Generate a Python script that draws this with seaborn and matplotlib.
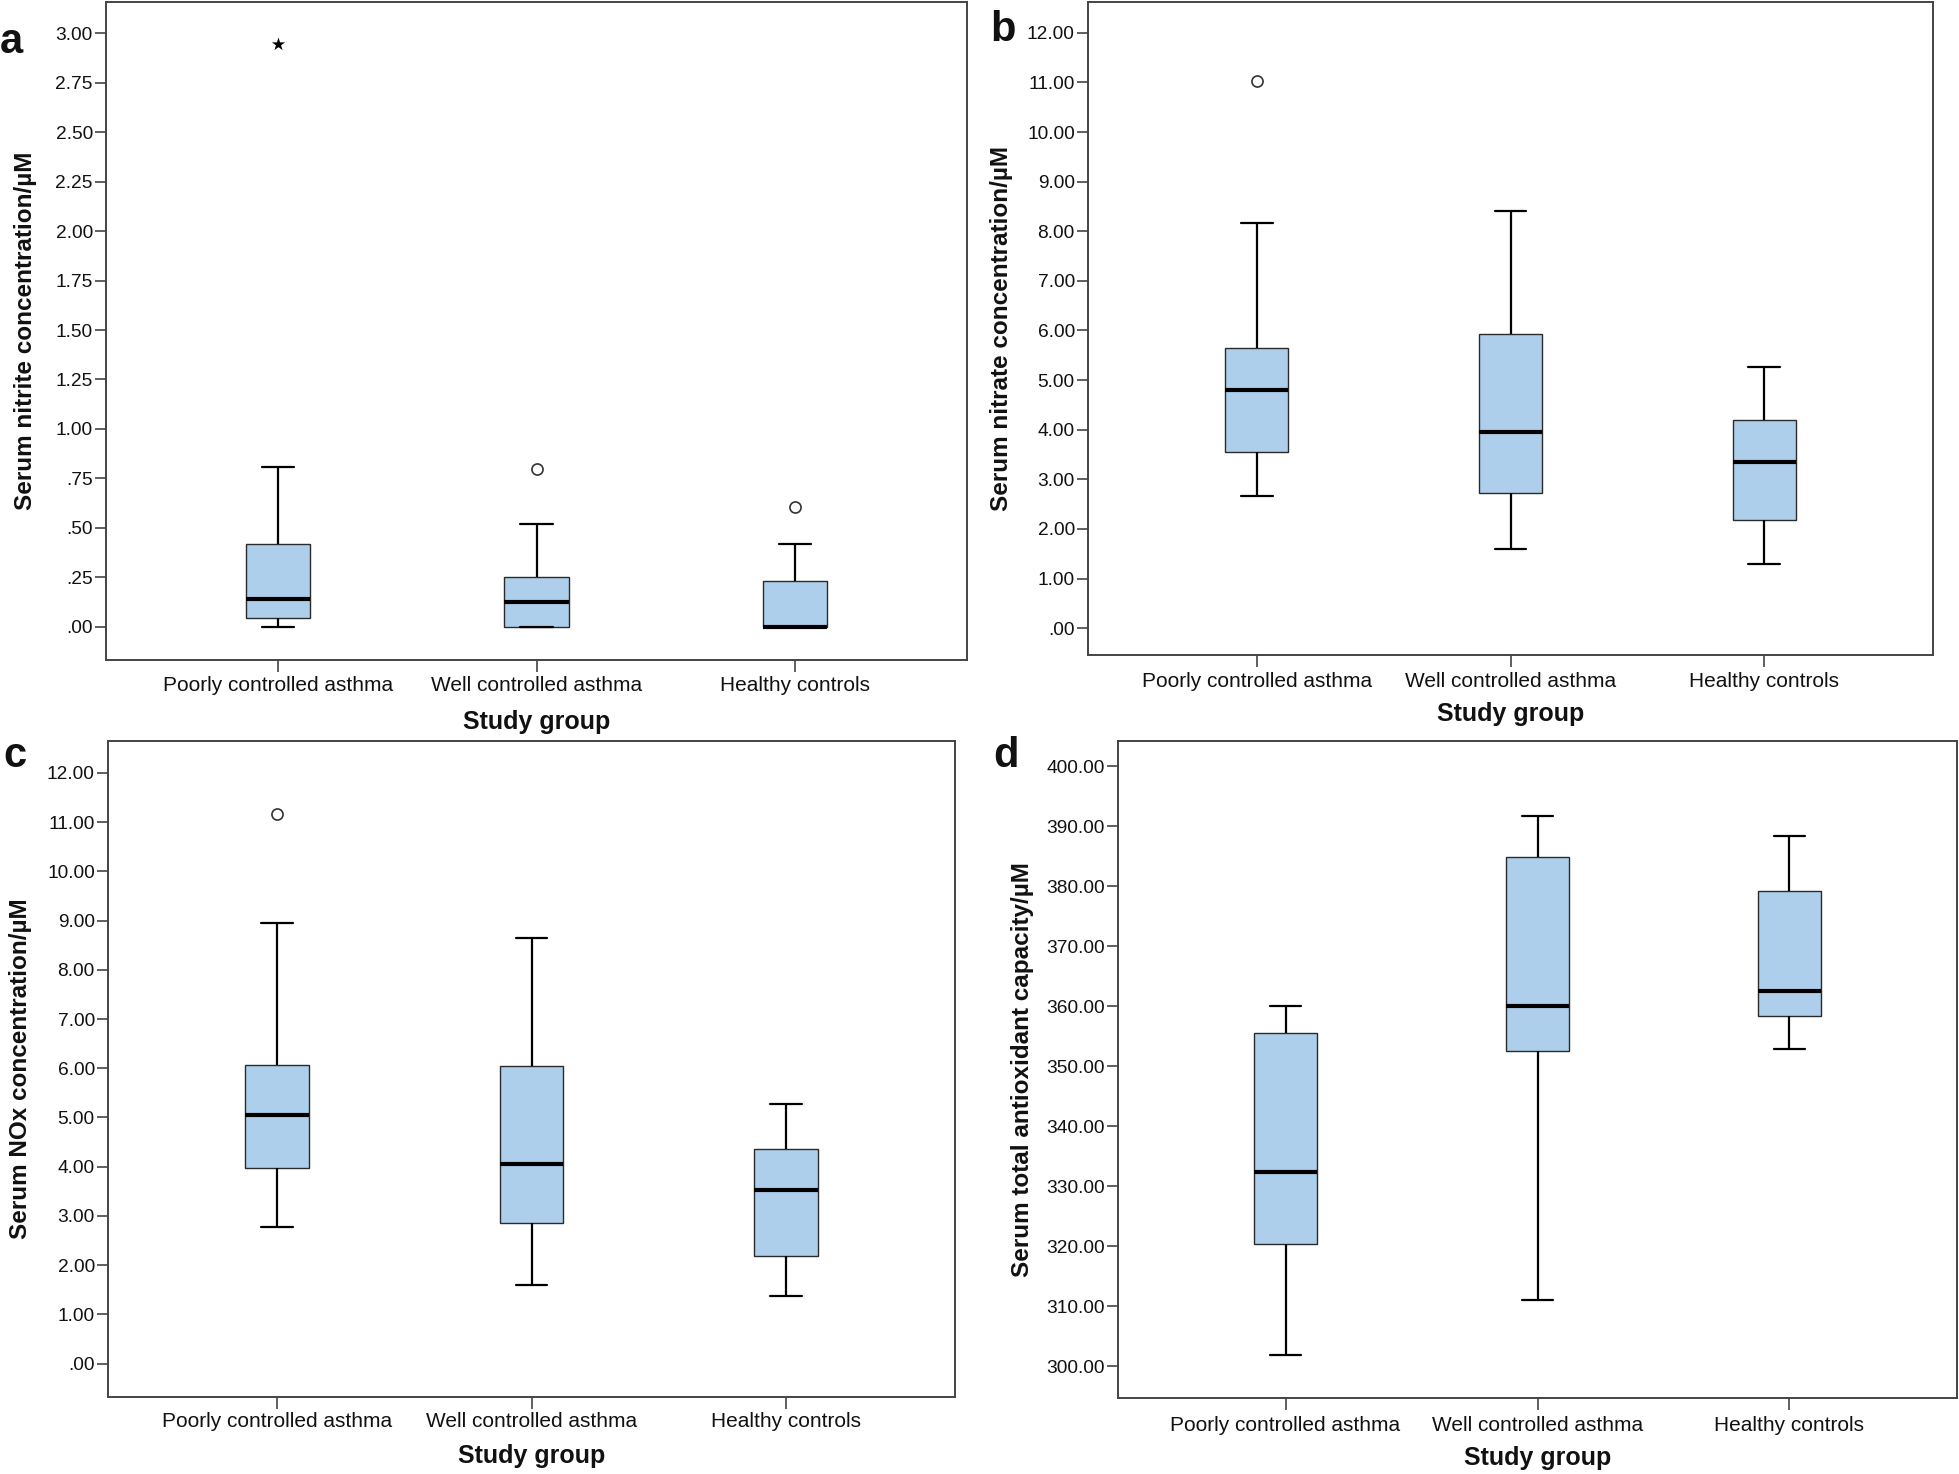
import numpy as np
import pandas as pd
import matplotlib
matplotlib.use("Agg")
import matplotlib.pyplot as plt
import seaborn as sns
from matplotlib.ticker import FuncFormatter

# ---------------- data ----------------
groups = ["Poorly controlled asthma", "Well controlled asthma", "Healthy controls"]

# five-number summaries per group: [lower whisker, Q1, median, Q3, upper whisker]
nitrite_poor = [0.00, 0.045, 0.141, 0.418, 0.806]
nitrite_well = [0.00, 0.00, 0.127, 0.251, 0.519]
nitrite_healthy = [0.00, 0.00, 0.00, 0.234, 0.418]
nitrite_out_groups = ["Well controlled asthma", "Healthy controls"]
nitrite_out_values = [0.796, 0.607]
nitrite_ext_groups = ["Poorly controlled asthma"]
nitrite_ext_values = [2.945]

nitrate_poor = [2.66, 3.56, 4.80, 5.64, 8.17]
nitrate_well = [1.59, 2.72, 3.95, 5.92, 8.40]
nitrate_healthy = [1.29, 2.18, 3.35, 4.19, 5.27]
nitrate_out_groups = ["Poorly controlled asthma"]
nitrate_out_values = [11.03]

nox_poor = [2.78, 3.97, 5.06, 6.07, 8.96]
nox_well = [1.60, 2.86, 4.05, 6.04, 8.65]
nox_healthy = [1.37, 2.18, 3.53, 4.36, 5.28]
nox_out_groups = ["Poorly controlled asthma"]
nox_out_values = [11.17]

tac_poor = [301.8, 320.3, 332.3, 355.6, 360.0]
tac_well = [311.0, 352.6, 360.0, 384.8, 391.7]
tac_healthy = [352.8, 358.3, 362.5, 379.2, 388.3]

nitrite_ticks = [0, 0.25, 0.5, 0.75, 1.0, 1.25, 1.5, 1.75, 2.0, 2.25, 2.5, 2.75, 3.0]
nitrate_ticks = [0, 1, 2, 3, 4, 5, 6, 7, 8, 9, 10, 11, 12]
nox_ticks = [0, 1, 2, 3, 4, 5, 6, 7, 8, 9, 10, 11, 12]
tac_ticks = [300, 310, 320, 330, 340, 350, 360, 370, 380, 390, 400]

ylabels = ["Serum nitrite concentration/\u00b5M",
           "Serum nitrate concentration/\u00b5M",
           "Serum NOx concentration/\u00b5M",
           "Serum total antioxidant capacity/\u00b5M"]
xlabel = "Study group"
panel_letters = ["a", "b", "c", "d"]

# ---------------- style ----------------
sns.set_theme(style="ticks")
plt.rcParams["font.family"] = ["Liberation Sans", "DejaVu Sans"]
plt.rcParams["text.color"] = "#111111"
plt.rcParams["axes.labelcolor"] = "#111111"
plt.rcParams["xtick.labelcolor"] = "#111111"
plt.rcParams["ytick.labelcolor"] = "#111111"

BOX = "#aecfec"
EDGE = "#2a2a2a"
SPINE = "#444444"

W, H = 1959, 1474
fig = plt.figure(figsize=(W / 100, H / 100), dpi=100)


def px_axes(left, top, right, bottom):
    return fig.add_axes([left / W, 1 - bottom / H, (right - left) / W, (bottom - top) / H])


def fmt(v, pos):
    s = f"{v:.2f}"
    if abs(v) < 1:
        s = s.replace("0.", ".", 1)
    return s


def draw(ax, summaries, ylim, ticks, ylabel, out_g=None, out_v=None, ext_g=None, ext_v=None,
         ylab_x=-0.1, xlab_y=-0.1, catpad=4):
    df = pd.DataFrame({"group": np.repeat(groups, 5), "value": np.concatenate(summaries)})
    sns.boxplot(data=df, x="group", y="value", order=groups, ax=ax, whis=(0, 100),
                width=0.25, color=BOX, saturation=1, linecolor=EDGE, linewidth=1.0,
                showfliers=False,
                boxprops=dict(facecolor=BOX, edgecolor=EDGE, linewidth=1.0, zorder=2),
                medianprops=dict(color="black", linewidth=3.0, solid_capstyle="butt"),
                whiskerprops=dict(color="black", linewidth=1.6),
                capprops=dict(color="black", linewidth=1.6))
    if out_v:
        odf = pd.DataFrame({"group": out_g, "value": out_v})
        sns.stripplot(data=odf, x="group", y="value", order=groups, ax=ax, jitter=False,
                      marker="o", size=8, color="white", edgecolor="#333333", linewidth=1.2,
                      zorder=5)
    if ext_v:
        edf = pd.DataFrame({"group": ext_g, "value": ext_v})
        sns.stripplot(data=edf, x="group", y="value", order=groups, ax=ax, jitter=False,
                      marker="*", size=10, color="black", linewidth=0, zorder=5)
    ax.set_xlim(-0.665, 2.665)
    ax.set_ylim(*ylim)
    ax.set_yticks(ticks)
    ax.yaxis.set_major_formatter(FuncFormatter(fmt))
    for sp in ax.spines.values():
        sp.set_visible(True)
        sp.set_color(SPINE)
        sp.set_linewidth(1.4)
    ax.tick_params(axis="y", direction="out", length=8, width=1.2, color=SPINE,
                   labelsize=13.8, pad=1.5, right=False)
    ax.tick_params(axis="x", direction="out", length=8.5, width=1.2, color=SPINE,
                   labelsize=15, pad=catpad, top=False)
    ax.set_ylabel(ylabel, fontsize=17.5, fontweight="bold", rotation=90,
                  ha="center", va="center")
    ax.yaxis.set_label_coords(ylab_x, 0.5)
    ax.set_xlabel(xlabel, fontsize=18, fontweight="bold", ha="center", va="center")
    ax.xaxis.set_label_coords(0.5, xlab_y)
    ax.grid(False)


ax_a = px_axes(106, 2, 967, 660)
ax_b = px_axes(1088, 2, 1933, 655)
ax_c = px_axes(108, 741, 955, 1397)
ax_d = px_axes(1118, 741, 1957, 1398)

draw(ax_a, [nitrite_poor, nitrite_well, nitrite_healthy], (-0.167, 3.157), nitrite_ticks,
     ylabels[0], nitrite_out_groups, nitrite_out_values, nitrite_ext_groups, nitrite_ext_values,
     ylab_x=-0.093, xlab_y=-0.094, catpad=3)
draw(ax_b, [nitrate_poor, nitrate_well, nitrate_healthy], (-0.54, 12.62), nitrate_ticks,
     ylabels[1], nitrate_out_groups, nitrate_out_values,
     ylab_x=-0.102, xlab_y=-0.090, catpad=3.5)
draw(ax_c, [nox_poor, nox_well, nox_healthy], (-0.68, 12.65), nox_ticks,
     ylabels[2], nox_out_groups, nox_out_values,
     ylab_x=-0.103, xlab_y=-0.090, catpad=2.5)
draw(ax_d, [tac_poor, tac_well, tac_healthy], (294.7, 404.2), tac_ticks,
     ylabels[3], ylab_x=-0.114, xlab_y=-0.092, catpad=4.5)

letter_pos = [(0, 53), (990, 41), (3, 767), (993, 767)]
for letter, (x, y) in zip(panel_letters, letter_pos):
    fig.text(x / W, 1 - y / H, letter, fontsize=30, fontweight="bold",
             ha="left", va="baseline")

fig.savefig("out.png", dpi=100)
